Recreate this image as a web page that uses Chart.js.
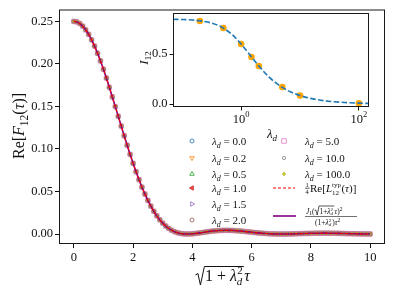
<!DOCTYPE html>
<html><head><meta charset="utf-8">
<script src="https://cdn.jsdelivr.net/npm/chart.js@4.4.1/dist/chart.umd.min.js"></script>
<style>
html,body{margin:0;padding:0;background:#fff;}
#wrap{position:relative;width:394px;height:296px;overflow:hidden;}
#main{position:absolute;left:0;top:0;}
#inset{position:absolute;left:120px;top:0;}
</style></head><body>
<div id="wrap"><canvas id="main" width="394" height="296"></canvas><canvas id="inset" width="260" height="150"></canvas></div>
<script>
// ---------- data ----------
const xScaled = [0,0.1,0.2,0.3,0.4,0.5,0.6,0.7,0.8,0.9,1.0,1.1,1.2,1.3,1.4,1.5,1.6,1.7,1.8,1.9,2.0,2.1,2.2,2.3,2.4,2.5,2.6,2.7,2.8,2.9,3.0,3.1,3.2,3.3,3.4,3.5,3.6,3.7,3.8,3.9,4.0,4.1,4.2,4.3,4.4,4.5,4.6,4.7,4.8,4.9,5.0,5.1,5.2,5.3,5.4,5.5,5.6,5.7,5.8,5.9,6.0,6.1,6.2,6.3,6.4,6.5,6.6,6.7,6.8,6.9,7.0,7.1,7.2,7.3,7.4,7.5,7.6,7.7,7.8,7.9,8.0,8.1,8.2,8.3,8.4,8.5,8.6,8.7,8.8,8.9,9.0,9.1,9.2,9.3,9.4,9.5,9.6,9.7,9.8,9.9,10.0];
const reF12 = [0.25,0.2494,0.2475,0.2444,0.2401,0.2348,0.2283,0.2209,0.2125,0.2035,0.1937,0.1833,0.1724,0.1612,0.1498,0.1384,0.1269,0.1155,0.1044,0.0936,0.0831,0.0732,0.0639,0.0551,0.047,0.0395,0.0328,0.0268,0.0214,0.01676,0.0128,0.00942,0.00667,0.00446,0.00278,0.00154,0.0007,0.00021,0.00001,0.00005,0.00027,0.00063,0.00109,0.00161,0.00212,0.00264,0.00311,0.00352,0.00387,0.00412,0.00429,0.00439,0.00436,0.00427,0.00409,0.00385,0.00356,0.00324,0.00288,0.00251,0.00213,0.00177,0.00141,0.0011,0.00081,0.00056,0.00036,0.0002,0.00009,0.00003,0.0,0.00001,0.00006,0.00013,0.00022,0.00033,0.00044,0.00055,0.00067,0.00076,0.00086,0.00092,0.00099,0.001,0.00104,0.00103,0.00101,0.00096,0.0009,0.00084,0.00074,0.00066,0.00056,0.00046,0.00037,0.00029,0.00021,0.00015,0.00009,0.00005,0.00002];
const lambdaLabels = ['0.0','0.2','0.5','1.0','1.5','2.0','5.0','10.0','100.0'];
const xTicks = [0,2,4,6,8,10];
const yTicks = [0,0.05,0.10,0.15,0.20,0.25];

const lambdaInset = [0.2,0.5,1,1.5,2,5,10,100];
const I12Points = [0.83,0.76,0.60,0.47,0.38,0.17,0.084,0.008];
const lambdaCurve = [0.07,0.1,0.15,0.2,0.3,0.4,0.5,0.7,1,1.5,2,3,4,5,7,10,15,20,30,50,70,100,150];
const I12Curve = [0.847,0.845,0.840,0.832,0.813,0.788,0.759,0.696,0.600,0.471,0.380,0.268,0.206,0.166,0.120,0.0845,0.0565,0.0424,0.0283,0.017,0.0121,0.0085,0.0057];
const insetXTicks = [1,100];
const insetXTickExp = ['0','2'];
const insetYTicks = [0,0.5];

// ---------- styles ----------
const SERIF = '"Liberation Serif","DejaVu Serif",serif';
const markerDefs = [
 {style:'circle', rot:0, r:2.0, col:'31,119,180', fill:false},
 {style:'triangle', rot:180, r:2.6, col:'255,127,14', fill:false},
 {style:'triangle', rot:0, r:2.6, col:'44,160,44', fill:false},
 {style:'triangle', rot:270, r:2.6, col:'214,39,40', fill:true},
 {style:'triangle', rot:90, r:2.6, col:'148,103,189', fill:false},
 {style:'circle', rot:0, r:2.0, col:'140,86,75', fill:false},
 {style:'rect', rot:0, r:3.2, col:'227,119,194', fill:false},
 {style:'circle', rot:0, r:1.6, col:'127,127,127', fill:false},
 {style:'circle', rot:0, r:1.4, col:'188,189,34', fill:true}
];
const fnt = (sz, it) => (it ? 'italic ' : '') + sz + 'px ' + SERIF;

function runs(ctx, x, y, parts, align) {
  let w = 0;
  for (const p of parts) { ctx.font = fnt(p[1], p[2]); w += ctx.measureText(p[0]).width; }
  let cx = align === 'center' ? x - w / 2 : (align === 'right' ? x - w : x);
  for (const p of parts) { ctx.font = fnt(p[1], p[2]); ctx.fillText(p[0], cx, y + (p[3] || 0)); cx += ctx.measureText(p[0]).width; }
  return w;
}

const pts = xScaled.map((x, i) => ({x: x, y: reF12[i]}));
const datasets = [
  {data: pts, showLine: true, pointRadius: 0, borderColor: '#ff0000', borderWidth: 1.1, borderDash: [3, 2], cubicInterpolationMode: 'monotone', order: 0},
  {data: pts, showLine: true, pointRadius: 0, borderColor: '#800080', borderWidth: 1.6, cubicInterpolationMode: 'monotone', order: 1}
];
markerDefs.forEach((m, i) => {
  datasets.push({data: pts, showLine: false, pointStyle: m.style, pointRotation: m.rot, pointRadius: m.r,
    pointBorderWidth: 1, pointBorderColor: 'rgba(' + m.col + ',0.45)',
    pointBackgroundColor: m.fill ? 'rgba(' + m.col + ',0.45)' : 'rgba(0,0,0,0)', order: 20 - i});
});

function legendMarker(ctx, m, x, y, alpha) {
  ctx.save();
  ctx.strokeStyle = 'rgba(' + m.col + ',' + alpha + ')';
  ctx.fillStyle = m.fill ? 'rgba(' + m.col + ',' + alpha + ')' : 'rgba(0,0,0,0)';
  ctx.lineWidth = 1;
  if (Chart.helpers && Chart.helpers.drawPoint) {
    Chart.helpers.drawPoint(ctx, {pointStyle: m.style, radius: m.r, rotation: m.rot, borderWidth: 1}, x, y);
  } else { ctx.beginPath(); ctx.arc(x, y, m.r, 0, Math.PI * 2); ctx.fill(); ctx.stroke(); }
  ctx.restore();
}

const mainDecor = {
  id: 'mainDecor',
  afterDraw(chart) {
    const ctx = chart.ctx, a = chart.chartArea;
    ctx.save();
    ctx.strokeStyle = '#1a1a1a'; ctx.lineWidth = 1;
    ctx.strokeRect(a.left + 0.5, a.top + 0.5, a.right - a.left - 1, a.bottom - a.top - 1);
    ctx.fillStyle = '#111'; ctx.textBaseline = 'alphabetic';
    // legend
    const col1 = [141, 158, 174, 188, 204, 220];
    const col2 = [141, 158, 174, 188, 216];
    for (let i = 0; i < 9; i++) {
      const c2 = i >= 6;
      const mx = c2 ? 284 : 192, tx = c2 ? 305 : 212;
      const y = c2 ? col2[i - 6] : col1[i];
      legendMarker(ctx, markerDefs[i], mx, y, 0.8);
      ctx.fillStyle = '#111';
      runs(ctx, tx, y + 4, [['λ', 11, true], ['d', 8, true, 2.5], [' = ' + lambdaLabels[i], 11, false]], 'left');
    }
    // dashed red entry
    ctx.strokeStyle = '#ff0000'; ctx.lineWidth = 1.1; ctx.setLineDash([3, 2]);
    ctx.beginPath(); ctx.moveTo(273, col2[3]); ctx.lineTo(295, col2[3]); ctx.stroke();
    ctx.setLineDash([]);
    let y8 = col2[3];
    ctx.fillStyle = '#111';
    ctx.font = fnt(6.5, false); ctx.textAlign = 'center';
    ctx.fillText('1', 307, y8 - 1); ctx.fillText('4', 307, y8 + 6);
    ctx.textAlign = 'left';
    ctx.fillRect(305, y8 - 0.2, 4.5, 0.7);
    runs(ctx, 310, y8 + 4, [['Re[', 11, false], ['L', 11, true]], 'left');
    ctx.font = fnt(11, false); let wx = 310 + ctx.measureText('Re[').width; ctx.font = fnt(11, true); wx += ctx.measureText('L').width;
    ctx.font = fnt(7, false); ctx.fillText('typ', wx, y8 - 1); ctx.fillText('12', wx, y8 + 6.5);
    wx += ctx.measureText('typ').width + 0.5;
    runs(ctx, wx, y8 + 4, [['(', 11, false], ['τ', 11, true], [')]', 11, false]], 'left');
    // purple entry
    let y9 = col2[4];
    ctx.strokeStyle = '#800080'; ctx.lineWidth = 1.6;
    ctx.beginPath(); ctx.moveTo(273, y9); ctx.lineTo(296, y9); ctx.stroke();
    ctx.fillStyle = '#111';
    let nx = 306, nb = y9 - 2.5;
    nx += runs(ctx, nx, nb, [['J', 7.5, true], ['1', 5.5, false, 1.5], ['(', 7.5, false]], 'left');
    ctx.font = fnt(7.5, false); const wIn1 = ctx.measureText('1+').width; ctx.font = fnt(7.5, true); const wIn2 = ctx.measureText('λ').width;
    const inner = wIn1 + wIn2 + 4;
    ctx.strokeStyle = '#111'; ctx.lineWidth = 0.7;
    ctx.beginPath(); ctx.moveTo(nx, nb - 3); ctx.lineTo(nx + 1.2, nb - 3.6); ctx.lineTo(nx + 2.6, nb + 1.5); ctx.lineTo(nx + 4.5, nb - 7.5); ctx.lineTo(nx + 4.5 + inner, nb - 7.5); ctx.stroke();
    nx += 4.8;
    nx += runs(ctx, nx, nb, [['1+', 7.5, false], ['λ', 7.5, true]], 'left');
    ctx.font = fnt(5, false); ctx.fillText('2', nx, nb - 3); ctx.font = fnt(5, true); ctx.fillText('d', nx, nb + 1.5);
    nx += 4;
    runs(ctx, nx, nb, [['τ', 7.5, true], [')', 7.5, false], ['2', 5.5, false, -3]], 'left');
    ctx.fillRect(305, y9 + 0.3, 52, 0.6);
    let db = y9 + 8.5;
    let dx = 315;
    dx += runs(ctx, dx, db, [['(1+', 7.5, false], ['λ', 7.5, true]], 'left');
    ctx.font = fnt(5, false); ctx.fillText('2', dx, db - 3); ctx.font = fnt(5, true); ctx.fillText('d', dx, db + 1.5);
    dx += 3.5;
    runs(ctx, dx, db, [[')', 7.5, false], ['τ', 7.5, true], ['2', 5.5, false, -3]], 'left');

    // y label
    ctx.save();
    ctx.translate(24, 126); ctx.rotate(-Math.PI / 2);
    runs(ctx, 0, 0, [['Re[', 16, false], ['F', 16, true], ['12', 11.5, false, 3.5], ['(', 16, false], ['τ', 16, true], [')]', 16, false]], 'center');
    ctx.restore();

    // x label with radical
    const F = 16, S = 11, by = 281, cxl = 223;
    ctx.font = fnt(F, false); const w1 = ctx.measureText('1 + ').width;
    ctx.font = fnt(F, true); const wl = ctx.measureText('λ').width; const wt = ctx.measureText('τ').width;
    ctx.font = fnt(S, false); const w2 = ctx.measureText('2').width;
    ctx.font = fnt(S, true); const wd = ctx.measureText('d').width;
    const ws = Math.max(w2, wd);
    const radW = 9, inn = w1 + wl + ws + 2;
    const total = radW + inn + wt + 1;
    let x0 = cxl - total / 2;
    ctx.strokeStyle = '#111'; ctx.lineWidth = 1;
    ctx.beginPath(); ctx.moveTo(x0, by - 6); ctx.lineTo(x0 + 2.5, by - 7.5); ctx.lineTo(x0 + 5, by + 4); ctx.lineTo(x0 + radW, by - 14.5); ctx.lineTo(x0 + radW + inn, by - 14.5); ctx.stroke();
    let px = x0 + radW + 0.5;
    ctx.font = fnt(F, false); ctx.fillText('1 + ', px, by); px += w1;
    ctx.font = fnt(F, true); ctx.fillText('λ', px, by); px += wl;
    ctx.font = fnt(S, false); ctx.fillText('2', px + 0.5, by - 7);
    ctx.font = fnt(S, true); ctx.fillText('d', px, by + 3.5);
    px = x0 + radW + inn + 0.5;
    ctx.font = fnt(F, true); ctx.fillText('τ', px, by);
    ctx.restore();
  }
};

new Chart(document.getElementById('main'), {
  type: 'scatter',
  data: {datasets: datasets},
  options: {
    responsive: false, animation: false, devicePixelRatio: 1,
    layout: {padding: {left: 0, right: 9, top: 8, bottom: 0}},
    plugins: {legend: {display: false}, tooltip: {enabled: false}},
    scales: {
      x: {type: 'linear', min: -0.5, max: 10.5,
        afterBuildTicks: s => { s.ticks = xTicks.map(v => ({value: v})); },
        afterFit: s => { s.height = 52; },
        ticks: {autoSkip: false, maxRotation: 0, padding: 2, color: '#111', font: {family: SERIF, size: 12.5}, callback: v => String(v)},
        grid: {drawOnChartArea: false, drawTicks: true, tickLength: 4, tickColor: '#111', tickWidth: 1},
        border: {display: false}},
      y: {type: 'linear', min: -0.0117, max: 0.264,
        afterBuildTicks: s => { s.ticks = yTicks.map(v => ({value: v})); },
        afterFit: s => { s.width = 59; },
        ticks: {autoSkip: false, padding: 2, color: '#111', font: {family: SERIF, size: 12.5}, callback: v => Number(v).toFixed(2)},
        grid: {drawOnChartArea: false, drawTicks: true, tickLength: 4, tickColor: '#111', tickWidth: 1},
        border: {display: false}}
    }
  },
  plugins: [mainDecor]
});

// ---------- inset ----------
const insetDecor = {
  id: 'insetDecor',
  beforeDraw(chart) {
    const ctx = chart.ctx, a = chart.chartArea;
    ctx.save(); ctx.fillStyle = '#fff'; ctx.fillRect(a.left, a.top, a.right - a.left, a.bottom - a.top); ctx.restore();
  },
  afterDraw(chart) {
    const ctx = chart.ctx, a = chart.chartArea;
    ctx.save();
    ctx.strokeStyle = '#1a1a1a'; ctx.lineWidth = 1;
    ctx.strokeRect(a.left + 0.5, a.top + 0.5, a.right - a.left - 1, a.bottom - a.top - 1);
    ctx.fillStyle = '#111'; ctx.textBaseline = 'alphabetic';
    insetXTicks.forEach((v, i) => {
      const px = chart.scales.x.getPixelForValue(v);
      ctx.font = fnt(12.5, false); const w10 = ctx.measureText('10').width;
      ctx.font = fnt(8.5, false); const we = ctx.measureText(insetXTickExp[i]).width;
      const left = px - (w10 + we) / 2;
      ctx.font = fnt(12.5, false); ctx.fillText('10', left, a.bottom + 16);
      ctx.font = fnt(8.5, false); ctx.fillText(insetXTickExp[i], left + w10, a.bottom + 10);
    });
    runs(ctx, 152, 138, [['λ', 13, true], ['d', 9, true, 3]], 'center');
    ctx.save(); ctx.translate(28, 58); ctx.rotate(-Math.PI / 2);
    runs(ctx, 0, 0, [['I', 13, true], ['12', 9, false, 3]], 'center');
    ctx.restore();
    ctx.restore();
  }
};

new Chart(document.getElementById('inset'), {
  type: 'scatter',
  data: {datasets: [
    {data: lambdaCurve.map((l, i) => ({x: l, y: I12Curve[i]})), showLine: true, pointRadius: 0, borderColor: '#1f77b4', borderWidth: 1.6, borderDash: [5.5, 2.4], cubicInterpolationMode: 'monotone', order: 0},
    {data: lambdaInset.map((l, i) => ({x: l, y: I12Points[i]})), showLine: false, pointRadius: 3.3, pointBorderWidth: 0, pointBackgroundColor: '#ffa500', order: 1}
  ]},
  options: {
    responsive: false, animation: false, devicePixelRatio: 1,
    layout: {padding: {left: 0, right: 11, top: 13, bottom: 0}},
    plugins: {legend: {display: false}, tooltip: {enabled: false}},
    scales: {
      x: {type: 'logarithmic', min: 0.07, max: 148,
        afterBuildTicks: s => { s.ticks = insetXTicks.map(v => ({value: v})); },
        afterFit: s => { s.height = 43; },
        ticks: {display: false},
        grid: {drawOnChartArea: false, drawTicks: true, tickLength: 3.5, tickColor: '#111', tickWidth: 1},
        border: {display: false}},
      y: {type: 'linear', min: -0.03, max: 0.91,
        afterBuildTicks: s => { s.ticks = insetYTicks.map(v => ({value: v})); },
        afterFit: s => { s.width = 53; },
        ticks: {autoSkip: false, padding: 2, color: '#111', font: {family: SERIF, size: 12.5}, callback: v => Number(v).toFixed(1)},
        grid: {drawOnChartArea: false, drawTicks: true, tickLength: 3.5, tickColor: '#111', tickWidth: 1},
        border: {display: false}}
    }
  },
  plugins: [insetDecor]
});
</script></body></html>
